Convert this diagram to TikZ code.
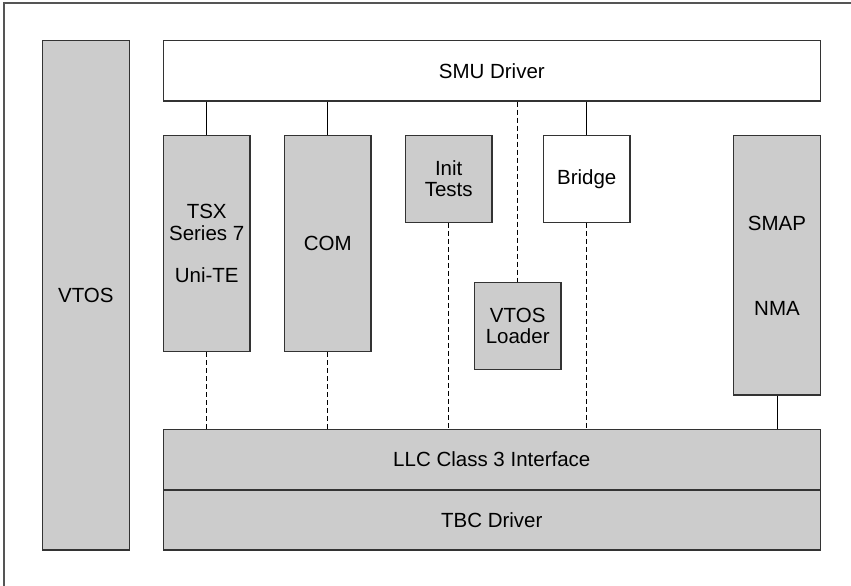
\documentclass[tikz,border=0pt]{standalone}
\usepackage{fontspec}
\setmainfont{Liberation Sans}
\definecolor{boxfill}{HTML}{CCCCCC}
\definecolor{boxline}{HTML}{333333}
\definecolor{frameline}{HTML}{555555}
\begin{document}
\begin{tikzpicture}[x=1pt,y=-1pt,
  every node/.style={font=\fontsize{20.5}{21.25}\selectfont, align=center, inner sep=0pt},
  blk/.style={draw=boxline, line width=1.2pt, fill=boxfill, minimum width=86.7pt},
  wblk/.style={blk, fill=white},
  solidcon/.style={draw=black, line width=0.9pt},
  dashcon/.style={draw=black, line width=0.9pt, dash pattern=on 5pt off 3pt}]
\useasboundingbox (0,0) rectangle (851,586);
\draw[frameline, line width=1.3pt] (4,586) -- (4,3) -- (851,3);
\node[blk, minimum width=87pt, minimum height=509.3pt] (vtos) at (85.8,295.3) {VTOS};
\node[wblk, minimum width=657pt, minimum height=60.3pt] (smu) at (491.8,70.85) {SMU Driver};
\node[blk, minimum height=216pt] (tsx) at (206.7,243.7) {TSX\\Series 7\\~\\Uni-TE};
\node[blk, minimum height=216pt] (com) at (327.7,243.7) {COM};
\node[blk, minimum height=86.7pt] (init) at (448.7,179) {Init\\Tests};
\node[blk, minimum height=86.7pt] (loader) at (517.7,326) {VTOS\\Loader};
\node[wblk, minimum height=86.7pt] (bridge) at (586.7,179) {Bridge};
\node[blk, minimum height=259.3pt] (smap) at (777,265.35) {SMAP\\~\\~\\~\\NMA};
\node[blk, minimum width=657pt, minimum height=60.7pt] (llc) at (491.8,459.65) {LLC Class 3 Interface};
\node[blk, minimum width=657pt, minimum height=60pt] (tbc) at (491.8,520) {TBC Driver};
\draw[solidcon] (smu.south -| tsx.north) -- (tsx.north);
\draw[solidcon] (smu.south -| com.north) -- (com.north);
\draw[dashcon] (smu.south -| loader.north) -- (loader.north);
\draw[solidcon] (smu.south -| bridge.north) -- (bridge.north);
\draw[dashcon] (tsx.south) -- (tsx.south |- llc.north);
\draw[dashcon] (com.south) -- (com.south |- llc.north);
\draw[dashcon] (init.south) -- (init.south |- llc.north);
\draw[dashcon] (bridge.south) -- (bridge.south |- llc.north);
\draw[solidcon] (smap.south) -- (smap.south |- llc.north);
\end{tikzpicture}
\end{document}
